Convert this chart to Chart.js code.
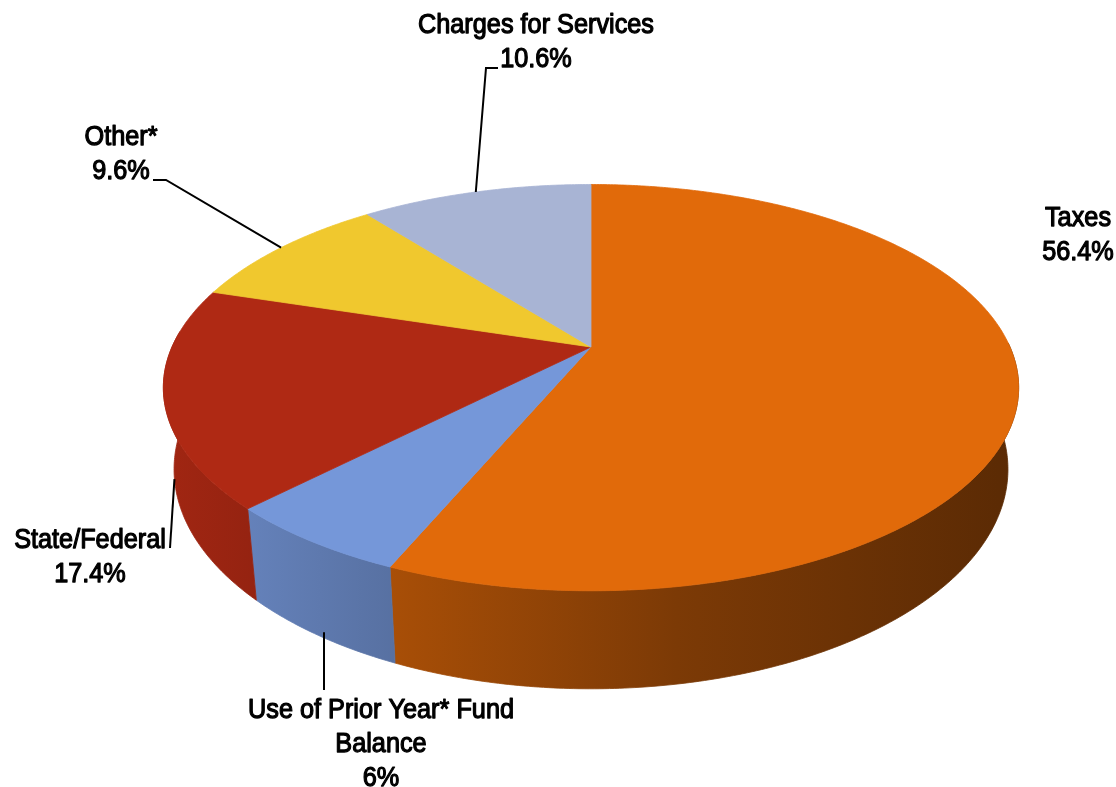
<!DOCTYPE html>
<html>
<head>
<meta charset="utf-8">
<script src="https://cdn.jsdelivr.net/npm/chart.js@4.4.1/dist/chart.umd.min.js"></script>
<style>
  html, body { margin: 0; padding: 0; background: #ffffff; }
  #wrap { width: 1116px; height: 787px; position: relative; }
  canvas { display: block; }
</style>
</head>
<body>
<div id="wrap"><canvas id="revenue" width="1116" height="787"></canvas></div>
<script>
// Revenue sources, share of total (%), clockwise from 12 o'clock
const categories = ['Taxes', 'Use of Prior Year* Fund\nBalance', 'State/Federal', 'Other*', 'Charges for Services'];
const shares = [56.4, 6, 17.4, 9.6, 10.6];

// Top-face colours for each slice
const sliceColors = ['#E16A0A', '#7597D9', '#AF2914', '#F0C82E', '#A8B4D4'];

// Label placement: centre x, first baseline, leader start points, and whether
// the leader meets the slice on its top rim (0) or the bottom of its wall (1)
const labelLayout = [
  { cx: 1078, y: 226, lead: null },
  { cx: 381, y: 718, lead: [[324, 690]], depth: 1, vertical: true },
  { cx: 90, y: 548, lead: [[170, 548]], depth: 1 },
  { cx: 121, y: 145, lead: [[153, 180], [166, 180]], depth: 0 },
  { cx: 536, y: 33, lead: [[498, 68], [486, 68]], depth: 0 }
];

function hexToRgb(h) {
  const n = parseInt(h.slice(1), 16);
  return [(n >> 16) & 255, (n >> 8) & 255, n & 255];
}
function shade(hex, k) {
  const [r, g, b] = hexToRgb(hex);
  return 'rgb(' + Math.round(r * k) + ',' + Math.round(g * k) + ',' + Math.round(b * k) + ')';
}

// Perspective projection of a point on the disc rim (angle t) at the top (depth 0)
// or the bottom (depth 1) of the slab
function project(geo, t, depth) {
  const c = Math.cos(t), s = Math.sin(t);
  const f = 1 / (1 - geo.p * s);
  const g = depth ? geo.shrink : 1;
  return {
    x: geo.cx + geo.rx * c * f * g,
    y: geo.cy + geo.ry * s * f + depth * geo.thick * f
  };
}

const pie3d = {
  id: 'pie3d',
  beforeDatasetsDraw(chart) {
    const arcs = chart.getDatasetMeta(0).data;
    if (!arcs.length) return false;
    const R = arcs[0].outerRadius;
    const geo = {
      cx: arcs[0].x, cy: arcs[0].y,
      rx: R * 1.2075, ry: R * 0.562,
      p: 0.2, thick: R * 0.226, shrink: 0.975
    };
    chart.$geo = geo;
    const ctx = chart.ctx;
    ctx.save();

    // Outer walls (front half only)
    const gx0 = geo.cx - geo.rx * 1.02, gx1 = geo.cx + geo.rx * 1.02;
    arcs.forEach((arc, i) => {
      const lo = Math.max(arc.startAngle, -0.02);
      const hi = Math.min(arc.endAngle, Math.PI + 0.08);
      if (hi <= lo) return;
      const n = Math.max(4, Math.ceil((hi - lo) / 0.01));
      ctx.beginPath();
      for (let k = 0; k <= n; k++) {
        const p = project(geo, lo + (hi - lo) * k / n, 0);
        k ? ctx.lineTo(p.x, p.y) : ctx.moveTo(p.x, p.y);
      }
      for (let k = n; k >= 0; k--) {
        const p = project(geo, lo + (hi - lo) * k / n, 1);
        ctx.lineTo(p.x, p.y);
      }
      ctx.closePath();
      const grad = ctx.createLinearGradient(gx0, 0, gx1, 0);
      const base = sliceColors[i];
      grad.addColorStop(0, shade(base, 0.92));
      grad.addColorStop(0.275, shade(base, 0.74));
      grad.addColorStop(0.6, shade(base, 0.55));
      grad.addColorStop(1, shade(base, 0.40));
      ctx.fillStyle = grad;
      ctx.strokeStyle = grad;
      ctx.lineWidth = 0.8;
      ctx.fill();
      ctx.stroke();
    });

    // Top faces
    arcs.forEach((arc, i) => {
      const a0 = arc.startAngle, a1 = arc.endAngle;
      const n = Math.max(4, Math.ceil((a1 - a0) / 0.008));
      ctx.beginPath();
      ctx.moveTo(geo.cx, geo.cy);
      for (let k = 0; k <= n; k++) {
        const p = project(geo, a0 + (a1 - a0) * k / n, 0);
        ctx.lineTo(p.x, p.y);
      }
      ctx.closePath();
      ctx.fillStyle = sliceColors[i];
      ctx.strokeStyle = sliceColors[i];
      ctx.lineWidth = 0.8;
      ctx.fill();
      ctx.stroke();
    });

    ctx.restore();
    return false;
  },
  afterDraw(chart) {
    const geo = chart.$geo;
    if (!geo) return;
    const arcs = chart.getDatasetMeta(0).data;
    const ctx = chart.ctx;
    ctx.save();

    // Leader lines
    ctx.strokeStyle = '#000000';
    ctx.lineWidth = 2;
    ctx.lineJoin = 'miter';
    labelLayout.forEach((lay, i) => {
      if (!lay.lead) return;
      const arc = arcs[i];
      const mid = (arc.startAngle + arc.endAngle) / 2;
      const end = project(geo, mid, lay.depth);
      const last = lay.lead[lay.lead.length - 1];
      const ex = lay.vertical ? last[0] : end.x;
      ctx.beginPath();
      lay.lead.forEach((pt, k) => (k ? ctx.lineTo(pt[0], pt[1]) : ctx.moveTo(pt[0], pt[1])));
      ctx.lineTo(ex, end.y - (lay.vertical ? 3 : 0));
      ctx.stroke();
    });

    // Category + share labels, condensed sans
    ctx.font = '28px "Liberation Sans", Arial, sans-serif';
    ctx.fillStyle = '#000000';
    ctx.strokeStyle = '#000000';
    ctx.lineWidth = 1.25;
    ctx.lineJoin = 'round';
    ctx.textAlign = 'center';
    ctx.textBaseline = 'alphabetic';
    const sx = 236 / ctx.measureText('Charges for Services').width;
    const lineH = 34;
    labelLayout.forEach((lay, i) => {
      const lines = categories[i].split('\n').concat([shares[i] + '%']);
      lines.forEach((txt, k) => {
        ctx.save();
        ctx.translate(lay.cx, lay.y + k * lineH);
        ctx.scale(sx, 1);
        ctx.fillText(txt, 0, 0);
        ctx.strokeText(txt, 0, 0);
        ctx.restore();
      });
    });
    ctx.restore();
  }
};

new Chart(document.getElementById('revenue'), {
  type: 'pie',
  data: {
    labels: categories,
    datasets: [{
      data: shares,
      backgroundColor: sliceColors,
      borderWidth: 0
    }]
  },
  options: {
    responsive: false,
    animation: false,
    layout: { padding: { left: 66, right: 0, top: 0, bottom: 93 } },
    plugins: {
      legend: { display: false },
      tooltip: { enabled: false }
    }
  },
  plugins: [pie3d]
});
</script>
</body>
</html>
